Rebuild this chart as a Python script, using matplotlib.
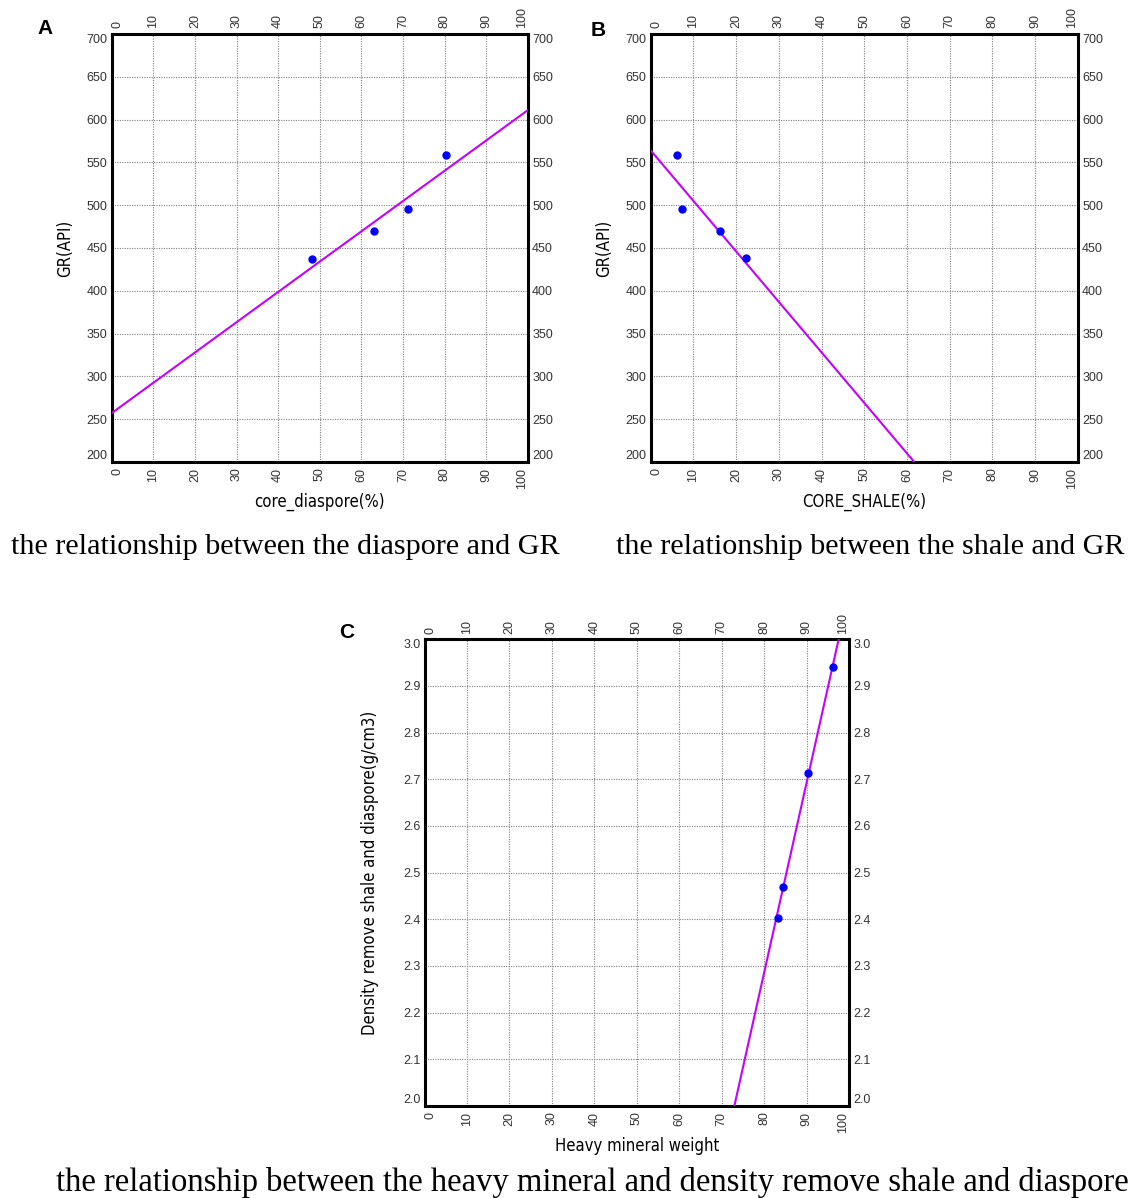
import numpy as np
import matplotlib
matplotlib.use("Agg")
from matplotlib import pyplot as plt

# panel A: GR vs core diaspore
diaspore_pct = [48.1, 63.1, 71.1, 80.2]
gr_a = [437, 470, 495, 558]
fit_a = (3.54, 257.0)   # slope, intercept

# panel B: GR vs core shale
shale_pct = [6.2, 7.3, 16.3, 22.3]
gr_b = [558, 495, 470, 438]
fit_b = (-5.9, 564.0)

# panel C: density (shale/diaspore removed) vs heavy mineral weight
heavy_wt = [96.3, 90.3, 84.5, 83.2]
density_c = [2.941, 2.713, 2.469, 2.402]
fit_c = (0.0407, -0.97)

x_ticks = list(range(0, 101, 10))
gr_ticks = list(range(200, 701, 50))
dens_ticks = [2.0, 2.1, 2.2, 2.3, 2.4, 2.5, 2.6, 2.7, 2.8, 2.9, 3.0]

LINE_COLOR = "#c400ff"
DOT_COLOR = "#0000ff"
TICK_FONT = "Liberation Sans"
LABEL_FONT = "DejaVu Sans"
CAPTION_FONT = "Liberation Serif"


def style_axes(ax, yticks, ylim, yfmt):
    ax.set_xlim(0, 100)
    ax.set_ylim(*ylim)
    ax.set_xticks(x_ticks)
    ax.set_yticks(yticks)
    ax.set_xticklabels([str(t) for t in x_ticks])
    ax.set_yticklabels([yfmt.format(t) for t in yticks])
    ax.tick_params(axis="both", length=0, labelsize=9, labelcolor="#333333",
                   top=True, right=True, labeltop=True, labelright=True)
    ax.tick_params(axis="x", pad=4, labelrotation=90)
    ax.tick_params(axis="y", pad=3)
    for lab in ax.get_xticklabels() + ax.get_yticklabels():
        lab.set_fontfamily(TICK_FONT)
    # edge labels pushed inwards like the original software
    ticks = ax.yaxis.get_major_ticks()
    ticks[0].label1.set_va("bottom")
    ticks[0].label2.set_va("bottom")
    ticks[-1].label1.set_va("top")
    ticks[-1].label2.set_va("top")
    xt = ax.xaxis.get_major_ticks()
    xt[0].label1.set_ha("left")
    xt[0].label2.set_ha("left")
    xt[-1].label1.set_ha("right")
    xt[-1].label2.set_ha("right")
    ax.grid(True, color="#7f7f7f", linestyle=(0, (1, 1.2)), linewidth=0.8)
    for sp in ax.spines.values():
        sp.set_linewidth(2.2)
        sp.set_color("black")


def axis_label(ax, xlabel, ylabel, ypad):
    kw = dict(fontsize=12, fontfamily=LABEL_FONT, fontstretch="condensed")
    ax.set_xlabel(xlabel, labelpad=3, **kw)
    ax.set_ylabel(ylabel, labelpad=ypad, **kw)


fig = plt.figure(figsize=(11.3, 11.98), dpi=100)

ax_a = fig.add_axes([0.0988, 0.6144, 0.3684, 0.3573])
ax_b = fig.add_axes([0.5758, 0.6144, 0.3781, 0.3573])
ax_c = fig.add_axes([0.3757, 0.0768, 0.3757, 0.3896])

xx = np.array([0, 100])

ax_a.plot(xx, fit_a[0] * xx + fit_a[1], color=LINE_COLOR, linewidth=1.5, zorder=3)
ax_a.plot(diaspore_pct, gr_a, "o", color=DOT_COLOR, markersize=5, zorder=4)
style_axes(ax_a, gr_ticks, (200, 700), "{:d}")
axis_label(ax_a, "core_diaspore(%)", "GR(API)", 9)

ax_b.plot(xx, fit_b[0] * xx + fit_b[1], color=LINE_COLOR, linewidth=1.5, zorder=3)
ax_b.plot(shale_pct, gr_b, "o", color=DOT_COLOR, markersize=5, zorder=4)
style_axes(ax_b, gr_ticks, (200, 700), "{:d}")
axis_label(ax_b, "CORE_SHALE(%)", "GR(API)", 9)

ax_c.plot(xx, fit_c[0] * xx + fit_c[1], color=LINE_COLOR, linewidth=1.5, zorder=3)
ax_c.plot(heavy_wt, density_c, "o", color=DOT_COLOR, markersize=5, zorder=4)
style_axes(ax_c, dens_ticks, (2.0, 3.0), "{:.1f}")
axis_label(ax_c, "Heavy mineral weight", "Density remove shale and diaspore(g/cm3)", 17)

for x, y, s in [(45, 28, "A"), (598, 30, "B"), (347, 632, "C")]:
    fig.text(x / 1130, 1 - y / 1198, s, fontsize=15, fontweight="bold",
             fontfamily="Liberation Sans", ha="center", va="center")

fig.text(285 / 1130, 1 - 547 / 1198, "the relationship between the diaspore and GR",
         fontsize=21.7, fontfamily=CAPTION_FONT, ha="center", va="center")
fig.text(870 / 1130, 1 - 547 / 1198, "the relationship between the shale and GR",
         fontsize=21.7, fontfamily=CAPTION_FONT, ha="center", va="center")
fig.text(592 / 1130, 1 - 1183 / 1198,
         "the relationship between the heavy mineral and density remove shale and diaspore",
         fontsize=23.5, fontfamily=CAPTION_FONT, ha="center", va="center")

fig.savefig("out.png", dpi=100)
